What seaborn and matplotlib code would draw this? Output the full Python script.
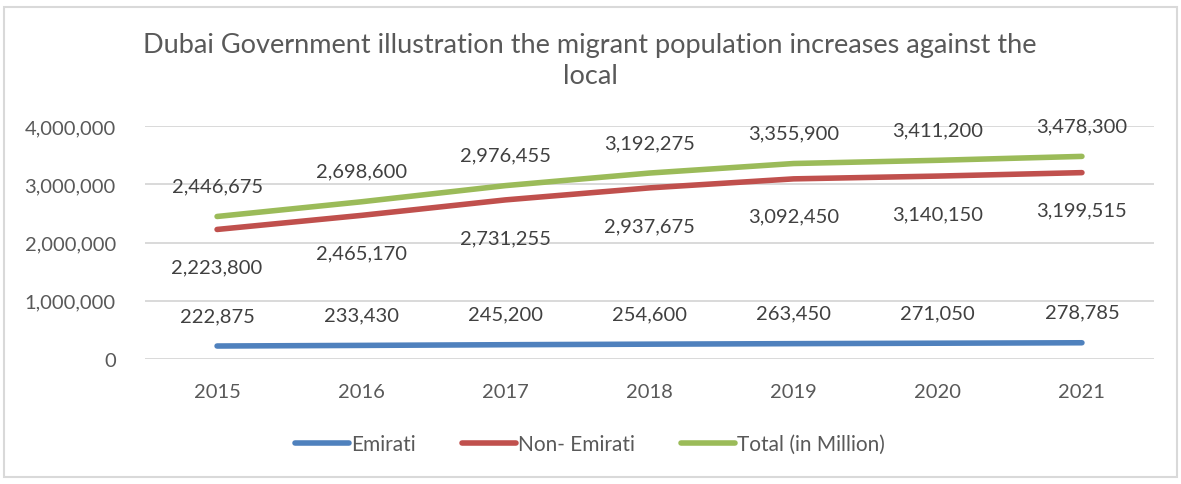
import matplotlib
matplotlib.use("Agg")
import matplotlib.pyplot as plt
import seaborn as sns
import pandas as pd
from matplotlib.patches import Rectangle
from matplotlib.ticker import FuncFormatter

years = ["2015", "2016", "2017", "2018", "2019", "2020", "2021"]
emirati = [222875, 233430, 245200, 254600, 263450, 271050, 278785]
non_emirati = [2223800, 2465170, 2731255, 2937675, 3092450, 3140150, 3199515]
total = [2446675, 2698600, 2976455, 3192275, 3355900, 3411200, 3478300]
series_names = ["Emirati", "Non- Emirati", "Total (in Million)"]
colors = ["#4F81BD", "#C0504D", "#9BBB59"]
title = "Dubai Government illustration the migrant population increases against the\nlocal"

sns.set_theme(style="white")
plt.rcParams["font.family"] = ["Lato", "DejaVu Sans"]
TXT = "#595959"

df = pd.DataFrame({
    "Year": years * 3,
    "idx": list(range(len(years))) * 3,
    "Value": emirati + non_emirati + total,
    "Series": [series_names[0]] * 7 + [series_names[1]] * 7 + [series_names[2]] * 7,
})

W, H = 1181, 485
fig = plt.figure(figsize=(W / 100, H / 100), dpi=100)
ax = fig.add_axes([145 / W, 1 - 360 / H, (1154 - 145) / W, (360 - 127) / H])

sns.lineplot(data=df, x="idx", y="Value", hue="Series", palette=colors,
             linewidth=4.0, ax=ax, legend=False, solid_capstyle="round")

ax.set_xlim(-0.5, len(years) - 0.5)
ax.set_ylim(0, 4000000)
ax.set_yticks([0, 1000000, 2000000, 3000000, 4000000])
ax.yaxis.set_major_formatter(FuncFormatter(lambda v, p: f"{int(v):,}"))
ax.set_xticks(range(len(years)))
ax.set_xticklabels(years)
ax.set_xlabel("")
ax.set_ylabel("")
ax.grid(axis="y", color="#D9D9D9", linewidth=1.4)
ax.set_axisbelow(True)
for s in ax.spines.values():
    s.set_visible(False)
ax.tick_params(axis="y", length=0, pad=21, labelsize=14.5, labelcolor=TXT)
ax.tick_params(axis="x", length=0, pad=17, labelsize=14.5, labelcolor=TXT)

offsets = [22, -27, 22]
for vals, off in zip([emirati, non_emirati, total], offsets):
    for i, v in enumerate(vals):
        ax.annotate(f"{v:,}", (i, v), xytext=(0, off), textcoords="offset points",
                    ha="center", va="center", fontsize=14.5, color="#404040")

fig.text(590 / W, 1 - 61 / H, title, ha="center", va="center",
         fontsize=19.5, color=TXT, linespacing=1.32, multialignment="center")

handles = [plt.Line2D([0], [0], color=c, lw=4.0, solid_capstyle="round") for c in colors]
fig.legend(handles, series_names, loc="center", bbox_to_anchor=(590 / W, 1 - 445 / H),
           ncol=3, frameon=False, fontsize=15, handlelength=2.6, handletextpad=0.1,
           columnspacing=2.2, labelcolor=TXT)

fig.patches.append(Rectangle((4 / W, 1 - 478 / H), (1177 - 4) / W, (478 - 8) / H,
                             transform=fig.transFigure, fill=False,
                             edgecolor="#D9D9D9", linewidth=1.5))

fig.savefig("out.png", dpi=100, facecolor="white")
